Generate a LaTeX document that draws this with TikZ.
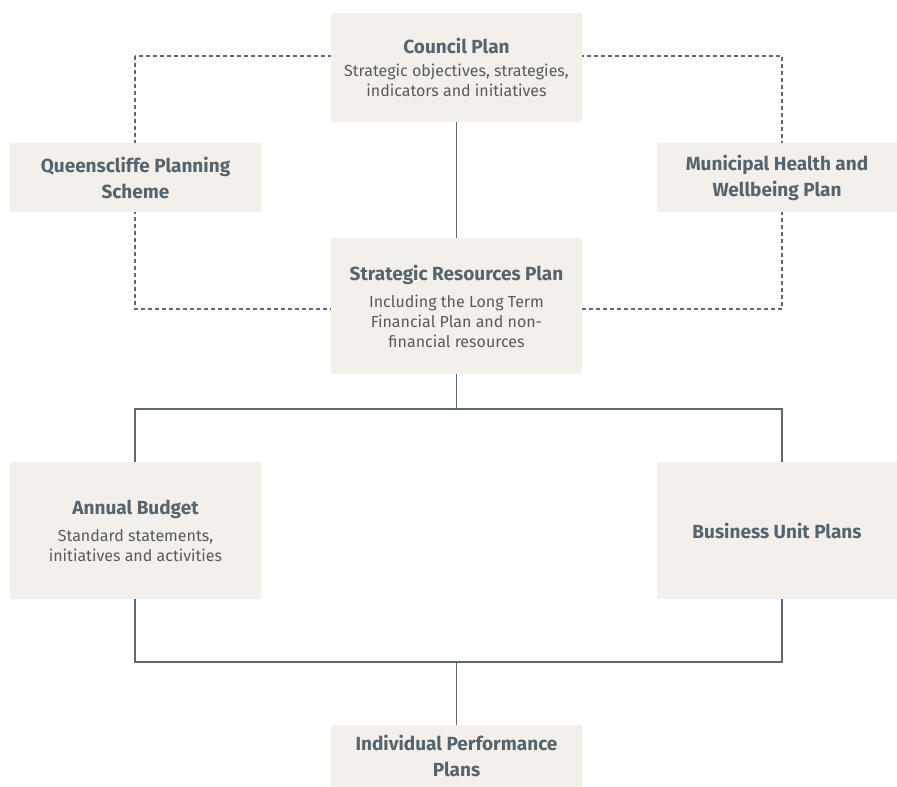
\documentclass[tikz,border=0pt]{standalone}
\usepackage{fontspec}
\setmainfont{Fira Sans}
\newcommand{\plantitle}{\fontsize{19}{26}\selectfont\bfseries\color{titletext}}
\begin{document}
\begin{tikzpicture}[x=1pt,y=-1pt,
  every node/.style={inner sep=0pt,outer sep=0pt},
  plan/.style={fill=boxfill,minimum width=251pt,align=center,text=titletext},
  title/.style={font=\fontsize{19}{26}\selectfont\bfseries},
  sub/.style={font=\fontsize{16}{20}\selectfont,text=subtext},
  link/.style={draw=linegrey,line width=1.5pt},
  dashlink/.style={draw=linegrey,line width=1.1pt,dash pattern=on 4pt off 3pt}]
\definecolor{boxfill}{HTML}{F3F0EB}
\definecolor{titletext}{HTML}{56646D}
\definecolor{subtext}{HTML}{5A5A5A}
\definecolor{linegrey}{HTML}{5E6A72}
\useasboundingbox (0,0) rectangle (897,787);

% columns of the side connectors
\coordinate (leftcol) at (135,0);
\coordinate (rightcol) at (782,0);

% dashed ring linking the side plans
\draw[dashlink] (135,56) rectangle (782,309);

% plan boxes
\node[plan,sub,minimum height=109pt] (council) at (456.5,67.5)
  {{\plantitle Council Plan}\\[3pt]
   Strategic objectives, strategies,\\ indicators and initiatives};
\node[plan,minimum height=69pt,title] (qps) at (135.5,177.5)
  {Queenscliffe Planning\\ Scheme};
\node[plan,minimum height=69pt,minimum width=240pt,title] (mhw) at (777,177.5)
  {Municipal Health and\\ Wellbeing Plan};
\node[plan,sub,minimum height=136pt] (srp) at (456.5,306)
  {{\plantitle Strategic Resources Plan}\\[7pt]
   Including the Long Term\\ Financial Plan and non-\\ financial resources};
\node[plan,sub,minimum height=137pt] (budget) at (135.5,530.5)
  {{\plantitle Annual Budget}\\[7pt]
   Standard statements,\\ initiatives and activities};
\node[plan,minimum height=137pt,minimum width=240pt,title] (bup) at (777,530.5)
  {Business Unit Plans};
\node[plan,minimum height=62pt,title] (ipp) at (456.5,756)
  {Individual Performance\\ Plans};

% hierarchy connectors
\coordinate (split) at (456.5,409);
\coordinate (merge) at (456.5,662);
\draw[link] (council.south) -- (srp.north);
\draw[link] (srp.south) -- (split);
\draw[link] (split) -| (budget.north -| leftcol);
\draw[link] (split) -| (bup.north -| rightcol);
\draw[link] (budget.south -| leftcol) |- (merge);
\draw[link] (bup.south -| rightcol) |- (merge);
\draw[link] (merge) -- (ipp.north);
\end{tikzpicture}
\end{document}
